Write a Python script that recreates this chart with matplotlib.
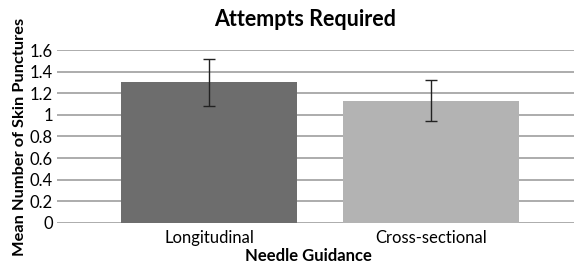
import numpy as np
import matplotlib.pyplot as plt

plt.rcParams['font.family'] = ['Lato', 'DejaVu Sans']

categories = ['Longitudinal', 'Cross-sectional']
means = [1.30, 1.13]
errors = [0.22, 0.19]
colors = ['#6d6d6d', '#b3b3b3']
yticks = [0, 0.2, 0.4, 0.6, 0.8, 1, 1.2, 1.4, 1.6]
ytick_labels = ['0', '0.2', '0.4', '0.6', '0.8', '1', '1.2', '1.4', '1.6']

fig = plt.figure(figsize=(5.76, 2.66), dpi=100)
ax = fig.add_axes([0.099, 0.162, 0.898, 0.650])

x = np.arange(len(categories))
ax.bar(x, means, width=0.795, color=colors, zorder=2)
ax.errorbar(x, means, yerr=errors, fmt='none', ecolor='#222222',
            elinewidth=1, capsize=4, capthick=1, zorder=3)

ax.set_xlim(-0.686, 1.648)
ax.set_ylim(0, 1.6)
ax.set_yticks(yticks)
ax.set_yticklabels(ytick_labels, fontsize=12)
ax.set_xticks(x)
ax.set_xticklabels(categories, fontsize=12)
ax.tick_params(axis='both', length=0, pad=3)
ax.tick_params(axis='x', pad=5)
ax.grid(axis='y', color='#a6a6a6', linewidth=1.3, zorder=1)
for s in ax.spines.values():
    s.set_visible(False)

fig.text(0.53, 0.925, 'Attempts Required', fontsize=15.5, fontweight='bold',
         ha='center', va='center')
ax.set_ylabel('Mean Number of Skin Punctures', fontsize=11.8, fontweight='bold', labelpad=2)
fig.text(0.536, 0.036, 'Needle Guidance', fontsize=12, fontweight='bold',
         ha='center', va='center')

fig.savefig('out.png', dpi=100)
